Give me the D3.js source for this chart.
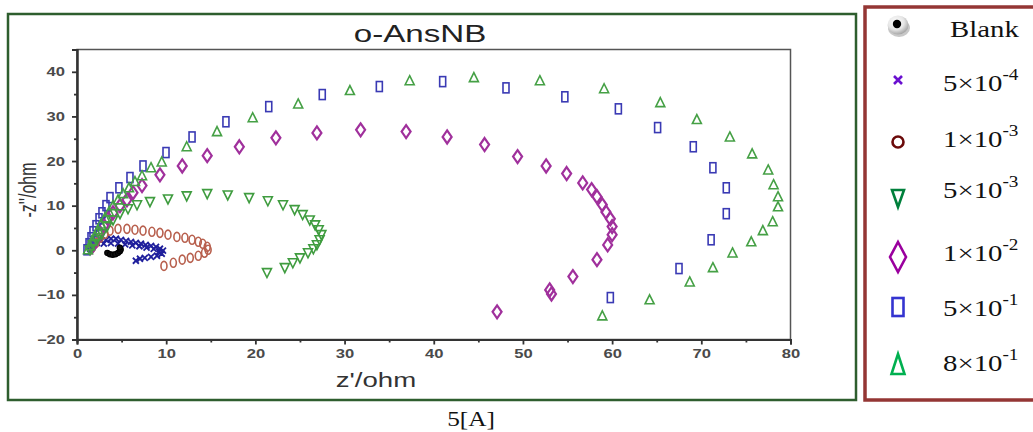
<!DOCTYPE html>
<html>
<head>
<meta charset="utf-8">
<script src="https://cdn.jsdelivr.net/npm/d3@7"></script>
<style>
  html, body { margin: 0; padding: 0; background: #ffffff; }
  svg { display: block; }
</style>
</head>
<body>
<svg id="chart" width="1033" height="432"></svg>
<script>
// ---------------- DATA ----------------
const chartTitle = "o-AnsNB";
const xTicks = [0, 10, 20, 30, 40, 50, 60, 70, 80];
const yTicks = [-20, -10, 0, 10, 20, 30, 40];
const xMinorTicks = [5, 15, 25, 35, 45, 55, 65, 75];
const yMinorTicks = [-15, -5, 5, 15, 25, 35];

const legendLabels = ["Blank", "5×10", "1×10", "5×10", "1×10", "5×10", "8×10"];
const legendExponents = ["", "-4", "-3", "-3", "-2", "-1", "-1"];

const blankPts = [[3.4,-0.6],[3.7,-0.9],[4.0,-1.0],[4.3,-0.9],[4.6,-0.6],[4.8,-0.2],[4.9,0.2],[4.8,0.6]];

const c5e4Pts = [[1.46,0.34],[1.79,1.0],[2.24,1.68],[2.69,2.13],[3.25,2.35],[3.81,2.58],[4.37,2.58],[4.93,2.35],
  [5.5,2.13],[6.05,1.9],[6.6,1.68],[7.17,1.46],[7.7,1.23],[8.3,1.0],[8.86,0.78],[9.3,0.34],[9.64,-0.1],
  [9.5,-0.78],[8.97,-1.23],[8.3,-1.46],[7.6,-1.7],[7.06,-1.9],[6.6,-2.35],
  [3.0,1.5],[3.8,1.6],[4.6,1.5],[5.4,1.3],[6.2,1.1],[7.0,0.9],[7.8,0.6],[8.6,0.3],[9.2,-0.3]];

const c1e3Pts = [[1.68,0.56],[2.13,1.68],[2.58,2.8],[3.14,3.7],[3.7,4.4],[4.6,4.8],[5.6,4.8],[6.5,4.6],[7.4,4.4],
  [8.4,4.15],[9.3,3.9],[10.2,3.5],[11.2,3.0],[12.1,2.8],[12.9,2.35],[13.6,1.9],[14.1,1.46],[14.6,0.78],
  [14.7,0.1],[14.3,-0.56],[13.6,-1.23],[12.7,-1.7],[11.8,-2.1],[10.8,-2.8],[9.75,-3.5]];

const c5e3Pts = [[1.46,0.1],[1.79,1.23],[2.24,2.35],[2.8,3.7],[3.36,5.27],[4.04,6.8],[4.82,8.2],[5.72,9.3],
  [6.73,10.2],[8.18,10.9],[10.2,11.5],[12.3,12.2],[14.6,12.7],[16.9,12.4],[19.3,11.8],[21.4,11.1],[23.1,10.2],
  [24.4,9.1],[25.3,8.0],[26.1,6.8],[26.7,5.7],[27.1,4.6],[27.4,3.5],[27.2,2.35],[26.9,1.23],[26.5,0.34],
  [25.9,-0.56],[25.0,-1.7],[24.2,-2.8],[23.3,-3.9],[21.3,-5.0]];

const c1e2Pts = [[1.68,0.78],[2.13,2.35],[2.58,3.9],[3.03,5.5],[3.48,7.06],[4.04,8.4],[4.82,10.0],[5.6,11.3],
  [6.28,12.9],[7.29,14.5],[9.3,16.9],[11.8,18.9],[14.6,21.2],[18.2,23.2],[22.3,25.2],[26.9,26.3],[31.8,27.0],
  [36.9,26.6],[41.5,25.4],[45.7,23.7],[49.4,21.0],[52.6,18.9],[54.9,17.2],[56.7,15.1],[57.7,13.6],[58.3,12.0],
  [58.9,10.2],[59.3,8.6],[59.8,7.06],[60.0,5.3],[60.0,3.5],[59.5,1.2],[58.3,-2.1],[55.6,-5.9],[53.0,-8.9],
  [53.2,-9.8],[47.1,-13.8]];

const c5e1Pts = [[1.12,0.11],[1.35,1.46],[1.57,2.8],[1.79,4.15],[2.13,5.5],[2.47,7.06],[2.8,8.4],[3.25,10.0],
  [3.7,11.8],[4.7,14.0],[5.94,16.3],[7.4,18.9],[9.98,21.9],[12.9,25.4],[16.7,28.8],[21.5,32.2],[27.5,34.9],
  [33.9,36.7],[41.0,37.8],[48.1,36.4],[54.7,34.4],[60.7,31.7],[65.1,27.5],[69.1,23.2],[71.3,18.5],[72.8,14.0],
  [72.8,8.2],[71.1,2.35],[67.5,-4.1],[59.8,-10.6]];

const c8e1Pts = [[1.23,0.11],[1.46,1.0],[1.68,2.1],[2.02,3.25],[2.35,4.6],[2.69,5.9],[3.14,7.3],[3.59,8.6],
  [4.04,10.0],[4.6,11.3],[5.16,12.7],[5.83,14.0],[6.5,15.4],[7.29,16.7],[8.3,18.5],[9.5,19.8],[12.3,23.2],
  [15.7,26.6],[19.7,29.7],[24.8,32.8],[30.6,35.8],[37.3,38.0],[44.5,38.7],[51.9,38.0],[59.1,36.2],[65.4,33.1],
  [69.5,29.3],[73.2,25.4],[75.7,21.6],[77.5,18.0],[78.1,14.7],[78.6,12.0],[78.6,9.75],[78.0,6.4],[76.9,4.4],
  [75.6,1.9],[73.5,-0.6],[71.3,-3.9],[68.7,-7.1],[64.2,-11.1],[58.9,-14.7]];

// ---------------- DRAW ----------------
const svg = d3.select("#chart");
const SX = 1.38; // horizontal stretch of the original picture text

// outer green frame
svg.append("rect").attr("x", 8).attr("y", 14).attr("width", 848).attr("height", 386)
  .attr("fill", "#ffffff").attr("stroke", "#2e5e2e").attr("stroke-width", 2.5);

const x = d3.scaleLinear().domain([0, 80]).range([77, 790.5]);
const y = d3.scaleLinear().domain([-20, 45]).range([339.5, 49.5]);

// title
svg.append("text").attr("transform", `translate(420,42) scale(${SX},1)`)
  .attr("text-anchor", "middle").attr("font-family", "Liberation Sans, Arial, sans-serif")
  .attr("font-size", 24).attr("fill", "#222").text(chartTitle);

// plot frame (top/right)
svg.append("rect").attr("x", x(0)).attr("y", y(45)).attr("width", x(80) - x(0)).attr("height", y(-20) - y(45))
  .attr("fill", "none").attr("stroke", "#555").attr("stroke-width", 1.5);

// axes
const gx = svg.append("g").attr("transform", `translate(0,${y(-20)})`)
  .call(d3.axisBottom(x).tickValues(xTicks).tickSize(5).tickFormat(d3.format("d")));
const gxm = svg.append("g").attr("transform", `translate(0,${y(-20)})`)
  .call(d3.axisBottom(x).tickValues(xMinorTicks).tickSize(3).tickFormat(""));
const gy = svg.append("g").attr("transform", `translate(${x(0)},0)`)
  .call(d3.axisLeft(y).tickValues(yTicks).tickSize(5).tickFormat(d3.format("d")));
const gym = svg.append("g").attr("transform", `translate(${x(0)},0)`)
  .call(d3.axisLeft(y).tickValues(yMinorTicks).tickSize(3).tickFormat(""));

[gx, gxm, gy, gym].forEach(g => {
  g.select(".domain").attr("stroke", "#333").attr("stroke-width", 2);
  g.selectAll(".tick line").attr("stroke", "#333").attr("stroke-width", 1.8);
});
gx.selectAll(".tick text").attr("y", 10).attr("dy", "0.71em")
  .attr("transform", `scale(${SX},1)`)
  .attr("font-family", "Liberation Sans, Arial, sans-serif").attr("font-weight", "bold")
  .attr("font-size", 12).attr("fill", "#4a4a4a");
gy.selectAll(".tick text").attr("x", 0).attr("dy", "0.34em")
  .attr("transform", `translate(-12,0) scale(${SX},1)`)
  .attr("font-family", "Liberation Sans, Arial, sans-serif").attr("font-weight", "bold")
  .attr("font-size", 12).attr("fill", "#4a4a4a");

// axis titles
svg.append("text").attr("transform", `translate(376,387) scale(${SX},1)`)
  .attr("text-anchor", "middle").attr("font-family", "Liberation Sans, Arial, sans-serif")
  .attr("font-size", 20).attr("fill", "#333").text("z'/ohm");
svg.append("text").attr("transform", `translate(36,190) scale(1.5,1) rotate(-90)`)
  .attr("text-anchor", "middle").attr("font-family", "Liberation Sans, Arial, sans-serif")
  .attr("font-size", 16).attr("fill", "#333").text("-z''/ohm");

// marker shapes
const shapes = {
  triUp: "M0,-5 L4.5,4 L-4.5,4 Z",
  triDown: "M-4.5,-4 L4.5,-4 L0,5 Z",
  diamond: "M0,-6.5 L4.5,0 L0,6.5 L-4.5,0 Z",
  cross: "M-3,-3 L3,3 M-3,3 L3,-3"
};

const plot = svg.append("g");
function drawPath(data, path, color, sw, fill) {
  plot.append("g").selectAll("path").data(data).join("path")
    .attr("d", path)
    .attr("transform", d => `translate(${x(d[0])},${y(d[1])})`)
    .attr("fill", fill || "none").attr("stroke", color).attr("stroke-width", sw);
}
// 5x10^-4 crosses
drawPath(c5e4Pts, shapes.cross, "#1f1f9c", 1.8);
// 1x10^-3 circles
plot.append("g").selectAll("ellipse").data(c1e3Pts).join("ellipse")
  .attr("cx", d => x(d[0])).attr("cy", d => y(d[1])).attr("rx", 3).attr("ry", 4.5)
  .attr("fill", "none").attr("stroke", "#b8604e").attr("stroke-width", 1.6);
// 1x10^-2 diamonds
drawPath(c1e2Pts, shapes.diamond, "#a0309c", 2.2);
// 5x10^-1 squares
plot.append("g").selectAll("rect").data(c5e1Pts).join("rect")
  .attr("x", d => x(d[0]) - 3).attr("y", d => y(d[1]) - 5).attr("width", 6).attr("height", 10)
  .attr("fill", "none").attr("stroke", "#3a3ab4").attr("stroke-width", 1.6);
// 5x10^-3 triangles down
drawPath(c5e3Pts, shapes.triDown, "#3f9c3f", 1.6);
// 8x10^-1 triangles up
drawPath(c8e1Pts, shapes.triUp, "#45a045", 1.6);
// blank
plot.append("g").selectAll("circle").data(blankPts).join("circle")
  .attr("cx", d => x(d[0])).attr("cy", d => y(d[1])).attr("r", 2.6)
  .attr("fill", "#111").attr("stroke", "#000").attr("stroke-width", 1.2);

// caption
svg.append("text").attr("transform", `translate(471,426) scale(1.15,1)`)
  .attr("text-anchor", "middle").attr("font-family", "Liberation Serif, Times New Roman, serif")
  .attr("font-size", 22).attr("fill", "#111").text("5[A]");

// ---------------- LEGEND ----------------
svg.append("rect").attr("x", 865).attr("y", 7).attr("width", 200).attr("height", 393)
  .attr("fill", "#ffffff").attr("stroke", "#943634").attr("stroke-width", 3.5);

const defs = svg.append("defs");
const grad = defs.append("radialGradient").attr("id", "ball").attr("cx", "40%").attr("cy", "35%").attr("r", "65%");
grad.append("stop").attr("offset", "0%").attr("stop-color", "#ffffff");
grad.append("stop").attr("offset", "60%").attr("stop-color", "#e6e6e6");
grad.append("stop").attr("offset", "100%").attr("stop-color", "#a8a8a8");

const lg = svg.append("g");
const legendMarkerY = [25, 80, 142, 198, 257, 307, 365];
const legendTextY = [37, 91, 147, 198, 261, 316, 371];
const lx = 898;
// blank ball
lg.append("ellipse").attr("cx", lx + 1).attr("cy", legendMarkerY[0] + 3).attr("rx", 11).attr("ry", 9).attr("fill", "#c8c8c8");
lg.append("ellipse").attr("cx", lx).attr("cy", legendMarkerY[0]).attr("rx", 10.5).attr("ry", 9.5).attr("fill", "url(#ball)");
lg.append("circle").attr("cx", lx - 1).attr("cy", legendMarkerY[0] - 1).attr("r", 4.2).attr("fill", "#000");
// cross
lg.append("path").attr("d", "M-4,-4 L4,4 M-4,4 L4,-4").attr("transform", `translate(${lx},${legendMarkerY[1]})`)
  .attr("stroke", "#6a10d0").attr("stroke-width", 2.6).attr("fill", "none");
// circle
lg.append("ellipse").attr("cx", lx).attr("cy", legendMarkerY[2]).attr("rx", 5.5).attr("ry", 5.5)
  .attr("stroke", "#6b0a0a").attr("stroke-width", 2.6).attr("fill", "none");
// triangle down
lg.append("path").attr("d", "M-6,-8 L6,-8 L0,9 Z").attr("transform", `translate(${lx},${legendMarkerY[3]})`)
  .attr("stroke", "#00803c").attr("stroke-width", 2.6).attr("fill", "none");
// diamond
lg.append("path").attr("d", "M0,-15 L8,0 L0,15 L-8,0 Z").attr("transform", `translate(${lx},${legendMarkerY[4]})`)
  .attr("stroke", "#9a009e").attr("stroke-width", 2.6).attr("fill", "none");
// square
lg.append("rect").attr("x", lx - 5.5).attr("y", legendMarkerY[5] - 9).attr("width", 11).attr("height", 18)
  .attr("stroke", "#3434d0").attr("stroke-width", 2.6).attr("fill", "none");
// triangle up
lg.append("path").attr("d", "M0,-11 L6.5,9 L-6.5,9 Z").attr("transform", `translate(${lx},${legendMarkerY[6]})`)
  .attr("stroke", "#00b050").attr("stroke-width", 2.6).attr("fill", "none");

legendLabels.forEach((lab, i) => {
  const t = lg.append("text")
    .attr("transform", `translate(${i === 0 ? 950 : 943},${legendTextY[i]}) scale(1.2,1)`)
    .attr("font-family", "Liberation Serif, Times New Roman, serif")
    .attr("font-size", 24).attr("fill", "#111");
  t.append("tspan").text(lab);
  if (legendExponents[i]) {
    t.append("tspan").attr("font-size", 16).attr("dy", -11).text(legendExponents[i]);
  }
});
</script>
</body>
</html>
